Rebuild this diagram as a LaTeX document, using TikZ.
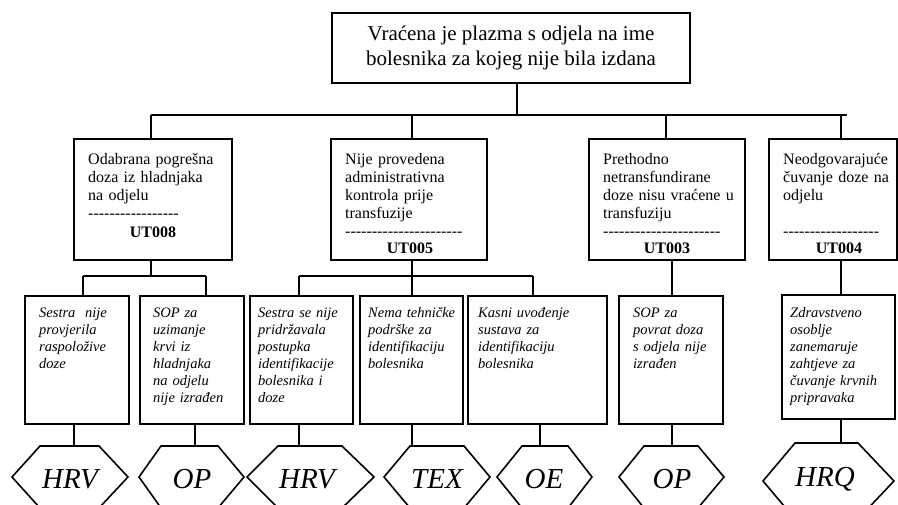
\documentclass[tikz,border=0pt]{standalone}
\usepackage{fontspec}
\setmainfont{Liberation Serif}
\newcommand{\dashrow}[1]{\foreach \k in {1,...,#1}{\mbox{-}}}
\tikzset{
  ln/.style={line width=1.6pt, line join=miter},
  box/.style={draw, ln, rectangle, inner sep=0pt},
  topbox/.style={box, font=\fontsize{21}{25.5}\selectfont, align=center},
  lone/.style={font=\fontsize{16}{18}\selectfont, align=left, text width=150pt, anchor=base west, inner sep=0pt},
  ltwo/.style={font=\itshape\fontsize{14.5}{17}\selectfont, align=left, text width=150pt, anchor=base west, inner sep=0pt},
  codelbl/.style={font=\bfseries\fontsize{16}{18}\selectfont, anchor=base, inner sep=0pt},
  hexlbl/.style={font=\itshape\fontsize{29}{30}\selectfont, anchor=base, inner sep=0pt},
}
\newcommand{\hexpath}[6]{\draw[ln] (#1,#6) -- (#2,#5) -- (#3,#5) -- (#4,#6) -- (#3,{2*#6-#5}) -- (#2,{2*#6-#5}) -- cycle;}
\begin{document}
\begin{tikzpicture}[x=1pt,y=-1pt]
\useasboundingbox (0,0) rectangle (898,504);
\clip (0,0) rectangle (898,504);

% top box
\node[topbox, minimum width=358, minimum height=70] (t) at (511,48)
  {Vraćena je plazma s odjela na ime\\bolesnika za kojeg nije bila izdana};

% level 1 boxes
\node[box, minimum width=158, minimum height=121] (b1) at (153,199.5) {};
\node[box, minimum width=156, minimum height=121] (b2) at (409,199.5) {};
\node[box, minimum width=156, minimum height=121] (b3) at (667,199.5) {};
\node[box, minimum width=128, minimum height=121] (b4) at (833,199.5) {};

\node[lone] (b1t) at (88,164) {Odabrana pogrešna\\doza iz hladnjaka\\na odjelu\\\dashrow{17}};
\node[codelbl] (b1c) at (153,237) {UT008};
\node[lone] (b2t) at (345,164) {Nije provedena\\administrativna\\kontrola prije\\transfuzije\\\dashrow{22}};
\node[codelbl] (b2c) at (410,253) {UT005};
\node[lone] (b3t) at (603,164) {Prethodno\\netransfundirane\\doze nisu vraćene u\\transfuziju\\\dashrow{22}};
\node[codelbl] (b3c) at (667,253) {UT003};
\node[lone] (b4t) at (783,164) {Neodgovarajuće\\čuvanje doze na\\odjelu\\[18pt]\dashrow{18}};
\node[codelbl] (b4c) at (839,253) {UT004};

% level 2 boxes
\node[box, minimum width=104, minimum height=128] (la) at (77,360) {};
\node[box, minimum width=104, minimum height=128] (lb) at (192,360) {};
\node[box, minimum width=103, minimum height=128] (lc) at (301.5,360) {};
\node[box, minimum width=103, minimum height=128] (ld) at (411.5,360) {};
\node[box, minimum width=139, minimum height=128] (le) at (537.5,360) {};
\node[box, minimum width=104, minimum height=128] (lf) at (671,360) {};
\node[box, minimum width=113, minimum height=124] (lg) at (838.5,357) {};

\node[ltwo] (lat) at (39,317) {Sestra~ nije\\provjerila\\raspoložive\\doze};
\node[ltwo] (lbt) at (153,317) {SOP za\\uzimanje\\krvi iz\\hladnjaka\\na odjelu\\nije izrađen};
\node[ltwo] (lct) at (258,317) {Sestra se nije\\pridržavala\\postupka\\identifikacije\\bolesnika i\\doze};
\node[ltwo] (ldt) at (368,317) {Nema tehničke\\podrške za\\identifikaciju\\bolesnika};
\node[ltwo] (let) at (478,317) {Kasni uvođenje\\sustava za\\identifikaciju\\bolesnika};
\node[ltwo] (lft) at (633,317) {SOP za\\povrat doza\\s odjela nije\\izrađen};
\node[ltwo] (lgt) at (790,317) {Zdravstveno\\osoblje\\zanemaruje\\zahtjeve za\\čuvanje krvnih\\pripravaka};

% hexagons
\hexpath{12}{40}{99}{128}{446}{477}
\hexpath{139}{161}{218}{244}{446}{477}
\hexpath{247}{278}{342}{374}{446}{477}
\hexpath{384}{410}{464}{490}{446}{477}
\hexpath{497}{522}{568}{592}{446}{477}
\hexpath{619}{644}{698}{724}{446}{477}
\hexpath{763}{795}{858}{894}{443}{481}
\node[hexlbl] (ha) at (70,488) {HRV};
\node[hexlbl] (hb) at (192,488) {OP};
\node[hexlbl] (hc) at (307,488) {HRV};
\node[hexlbl] (hd) at (437,488) {TEX};
\node[hexlbl] (he) at (544,488) {OE};
\node[hexlbl] (hf) at (672,488) {OP};
\node[hexlbl] (hg) at (825,486) {HRQ};
\coordinate (hat) at (74,446);
\coordinate (hbt) at (195,446);
\coordinate (hct) at (299,446);
\coordinate (hdt) at (412,446);
\coordinate (het) at (540,446);
\coordinate (hft) at (672,446);
\coordinate (hgt) at (841,443);

% connectors level 0 -> 1
\coordinate (t0) at (517,115);
\coordinate (d1) at (151,115);
\coordinate (d2) at (412,115);
\coordinate (d3) at (666,115);
\coordinate (d4) at (841,115);
\coordinate (busE) at (847,115);
\draw[ln] (t.south -| t0) -- (t0);
\draw[ln] (d1) -- (busE);
\draw[ln] (d1) -- (d1 |- b1.north);
\draw[ln] (d2) -- (d2 |- b2.north);
\draw[ln] (d3) -- (d3 |- b3.north);
\draw[ln] (d4) -- (d4 |- b4.north);

% connectors level 1 -> 2
\coordinate (e1) at (151,276);
\coordinate (e1a) at (83,276);
\coordinate (e1b) at (206,276);
\draw[ln] (e1 |- b1.south) -- (e1);
\draw[ln] (e1a) -- (e1b);
\draw[ln] (e1a) -- (e1a |- la.north);
\draw[ln] (e1b) -- (e1b |- lb.north);
\coordinate (e2) at (412,276);
\coordinate (e2a) at (299,276);
\coordinate (e2c) at (533,276);
\draw[ln] (e2 |- b2.south) -- (e2);
\draw[ln] (e2a) -- (e2c);
\draw[ln] (e2a) -- (e2a |- lc.north);
\draw[ln] (e2) -- (e2 |- ld.north);
\draw[ln] (e2c) -- (e2c |- le.north);
\draw[ln] (hft |- b3.south) -- (hft |- lf.north);
\draw[ln] (hgt |- b4.south) -- (hgt |- lg.north);

% connectors level 2 -> hexagons
\draw[ln] (hat |- la.south) -- (hat);
\draw[ln] (hbt |- lb.south) -- (hbt);
\draw[ln] (hct |- lc.south) -- (hct);
\draw[ln] (hdt |- ld.south) -- (hdt);
\draw[ln] (het |- le.south) -- (het);
\draw[ln] (hft |- lf.south) -- (hft);
\draw[ln] (hgt |- lg.south) -- (hgt);
\end{tikzpicture}
\end{document}
